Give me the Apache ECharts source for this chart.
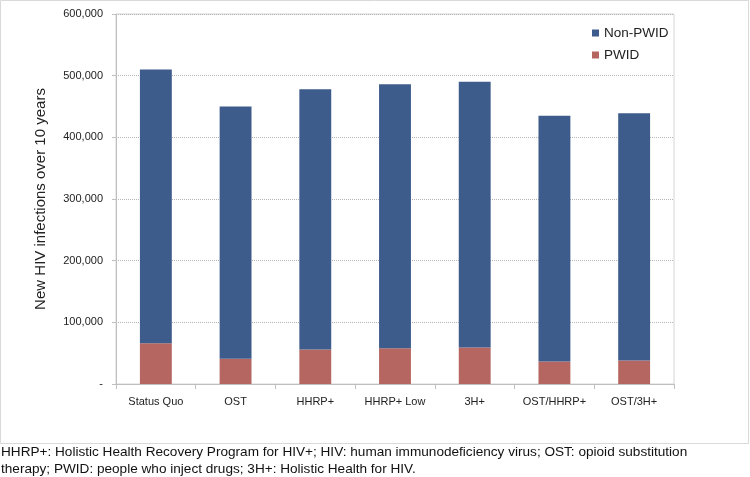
<!DOCTYPE html>
<html>
<head>
<meta charset="utf-8">
<script src="https://cdn.jsdelivr.net/npm/echarts@6/dist/echarts.min.js"></script>
<style>
  html, body { margin: 0; padding: 0; background: #fff; }
  #bar { width: 750px; height: 477px; }
</style>
</head>
<body>
<div id="bar"></div>
<script>
// data
var categories = ['Status Quo', 'OST', 'HHRP+', 'HHRP+ Low', '3H+', 'OST/HHRP+', 'OST/3H+'];
var pwid = [66000, 41000, 56000, 58000, 59000, 36500, 38000];
var nonPwid = [444000, 409000, 422000, 428000, 431000, 398500, 401000];
var yTicks = [0, 100000, 200000, 300000, 400000, 500000, 600000];

var captionLines = [
    'HHRP+: Holistic Health Recovery Program for HIV+; HIV: human immunodeficiency virus; OST: opioid substitution',
    'therapy; PWID: people who inject drugs; 3H+: Holistic Health for HIV.'
];

var myChart = echarts.init(document.getElementById('bar'));

var font = 'Liberation Sans, Arial, sans-serif';

barOption = {
    animation: false,
    textStyle: { fontFamily: font },
    legend: {
        orient: 'vertical',
        left: 587,
        top: 21,
        itemWidth: 7,
        itemHeight: 7,
        itemGap: 8,
        icon: 'rect',
        textStyle: { fontSize: 13.5, color: '#222', fontFamily: font },
        data: ['Non-PWID', 'PWID']
    },
    grid: {
        left: 116,
        right: 76,
        top: 14,
        bottom: 93,
        show: true,
        borderColor: '#d4d4d4',
        borderWidth: 1
    },
    xAxis: {
        type: 'category',
        data: categories,
        axisLine: { lineStyle: { color: '#bfbfbf' } },
        axisTick: { show: true, length: 5, lineStyle: { color: '#bfbfbf' } },
        axisLabel: { color: '#222', fontSize: 11, margin: 12, interval: 0, fontFamily: font }
    },
    yAxis: {
        type: 'value',
        min: yTicks[0],
        max: yTicks[yTicks.length - 1],
        interval: 100000,
        name: 'New HIV infections over 10 years',
        nameLocation: 'middle',
        nameGap: 68,
        nameTextStyle: { fontSize: 15, color: '#222', fontFamily: font },
        axisLine: { show: true, lineStyle: { color: '#bfbfbf' } },
        axisTick: { show: true, length: 4, lineStyle: { color: '#bfbfbf' } },
        axisLabel: {
            color: '#222',
            fontSize: 11,
            margin: 13,
            fontFamily: font,
            formatter: function (v) {
                return v === 0 ? '-' : v.toLocaleString('en-US');
            }
        },
        splitLine: { lineStyle: { color: '#b5b5b5', type: 'dotted' } }
    },
    series: [
        {
            name: 'PWID',
            type: 'bar',
            stack: 'total',
            barWidth: '40%',
            itemStyle: { color: '#b66660' },
            data: pwid
        },
        {
            name: 'Non-PWID',
            type: 'bar',
            stack: 'total',
            barWidth: '40%',
            itemStyle: { color: '#3e5c8b' },
            data: nonPwid
        }
    ],
    graphic: [
        {
            type: 'rect',
            shape: { x: 0.5, y: 0.5, width: 748, height: 443 },
            style: { fill: 'none', stroke: '#d9d9d9', lineWidth: 1 },
            silent: true
        },
        {
            type: 'text',
            left: 1,
            top: 445,
            style: { text: captionLines[0], fontSize: 13.6, fill: '#111', fontFamily: font }
        },
        {
            type: 'text',
            left: 1,
            top: 462,
            style: { text: captionLines[1], fontSize: 13.6, fill: '#111', fontFamily: font }
        }
    ]
};
myChart.setOption(barOption);
</script>
</body>
</html>
